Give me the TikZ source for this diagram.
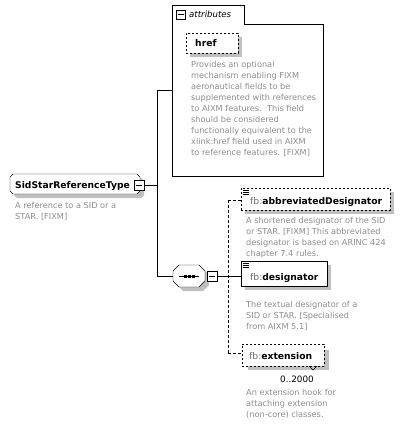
\documentclass[tikz,border=0pt]{standalone}
\usepackage{fontspec}
\setmainfont{DejaVu Sans}
\definecolor{desc}{RGB}{140,140,140}
\definecolor{shad}{RGB}{192,192,192}
\definecolor{pfx}{RGB}{110,110,110}
\begin{document}
\begin{tikzpicture}[x=1pt,y=-1pt,
  desctext/.style={anchor=north west,align=left,text=desc,font=\fontsize{8.2}{11}\selectfont,inner sep=0pt},
  nametext/.style={anchor=base west,inner sep=0pt,font=\fontsize{9.2}{10}\selectfont},
  elbox/.style={draw,thin,fill=white},
  shadowbox/.style={fill=shad},
  minusbox/.style={draw,thin,fill=white,minimum width=10pt,minimum height=10pt,inner sep=0pt},
  conn/.style={thin},
  dconn/.style={thin,dash pattern=on 3pt off 2pt}]
\useasboundingbox (0,0) rectangle (404,425);

% ---- attributes group
\draw[thin] (172,5) -- (244,5) -- (244,24) -- (323,24) -- (323,176) -- (172,176) -- cycle;
\node[minusbox,minimum width=9pt,minimum height=9pt] (am) at (180.5,14.5) {};
\draw (177.5,14.5) -- (183.5,14.5);
\node[nametext,font=\fontsize{8.6}{10}\selectfont\itshape] (attrlbl) at (189,18) {attributes};
\coordinate (attrw) at (172,90);

% href
\fill[shadowbox] (190,37) rectangle (242,57);
\node[elbox,dash pattern=on 2pt off 2pt,minimum width=52pt,minimum height=20pt,inner sep=0pt] (href) at (212,43) {};
\node[nametext,font=\fontsize{9.2}{10}\selectfont\bfseries] (hreft) at (195,47) {href};
\node[desctext] (hrefd) at (191,61) {Provides an optional\\mechanism enabling FIXM\\aeronautical fields to be\\supplemented with references\\to AIXM features.\ \ This field\\should be considered\\functionally equivalent to the\\xlink:href field used in AIXM\\to reference features. [FIXM]};

% ---- root type
\fill[shadowbox] (17,178) -- (141,178) -- (144,181) -- (144,195) -- (141,198) -- (17,198) -- (14,195) -- (14,181) -- cycle;
\draw[thin,fill=white] (13,174) -- (137,174) -- (140,177) -- (140,191) -- (137,194) -- (13,194) -- (10,191) -- (10,177) -- cycle;
\node[minimum width=130pt,minimum height=20pt,inner sep=0pt] (root) at (75,184) {};
\node[nametext,font=\fontsize{9.2}{10}\selectfont\bfseries] (roott) at (15,188.5) {SidStarReferenceType};
\node[minusbox] (m1) at (139,185) {};
\draw (136,185) -- (142,185);
\node[desctext] (rootd) at (15,202) {A reference to a SID or a\\STAR. [FIXM]};

% root connectors
\coordinate (j1) at (157,185);
\coordinate (jtop) at (157,90);
\coordinate (jbot) at (157,276);
\draw[conn] (m1.east) -- (j1);
\draw[conn] (jtop) -- (jbot);
\draw[conn] (jtop) -- (attrw);

% ---- sequence
\fill[shadowbox] (183,269) -- (203,269) -- (209,275) -- (209,285) -- (203,291) -- (183,291) -- (177,285) -- (177,275) -- cycle;
\draw[thin,fill=white] (179,265) -- (199,265) -- (205,271) -- (205,281) -- (199,287) -- (179,287) -- (173,281) -- (173,271) -- cycle;
\node[minimum width=32pt,minimum height=22pt,inner sep=0pt] (seq) at (189,276) {};
\draw[conn] (jbot) -- (seq.west);
\draw (179,276) -- (199,276);
\foreach \xx in {185,189,193} \fill (\xx-1.5,274.5) rectangle (\xx+1.5,277.5);
\node[minusbox] (m2) at (212,276) {};
\draw (209,276) -- (215,276);
\coordinate (s1) at (228,276);
\coordinate (stop) at (228,200);
\coordinate (sbot) at (228,353);
\draw[conn] (m2.east) -- (s1);
\draw[dconn] (stop) -- (sbot);

% ---- abbreviatedDesignator
\fill[shadowbox] (245,192) rectangle (394,214);
\node[elbox,dash pattern=on 2pt off 2pt,minimum width=149pt,minimum height=22pt,inner sep=0pt] (abbr) at (315.5,199) {};
\draw[dconn] (stop) -- (abbr.west |- stop);
\foreach \yy in {190.5,192.5,194.5} \draw[very thin] (243,\yy) -- (249,\yy);
\node[nametext] (abbrt) at (250,204) {\textcolor{pfx}{fb:}\textbf{abbreviatedDesignator}};
\node[desctext] (abbrd) at (246,217) {A shortened designator of the SID\\or STAR. [FIXM] This abbreviated\\designator is based on ARINC 424\\chapter 7.4 rules.};

% ---- designator
\fill[shadowbox] (245,265) rectangle (331,290);
\node[elbox,minimum width=86pt,minimum height=25pt,inner sep=0pt] (desig) at (284,273.5) {};
\draw[conn] (s1) -- (desig.west |- s1);
\foreach \yy in {263.5,265.5,267.5} \draw[very thin] (243,\yy) -- (249,\yy);
\node[nametext] (desigt) at (250,280) {\textcolor{pfx}{fb:}\textbf{designator}};
\node[desctext] (desigd) at (246,301) {The textual designator of a\\SID or STAR. [Specialised\\from AIXM 5.1]};

% ---- extension
\fill[shadowbox] (248,350) rectangle (329,370);
\node[elbox,dash pattern=on 2pt off 2pt,minimum width=82pt,minimum height=22pt,inner sep=0pt] (ext) at (283,355) {};
\draw[dconn] (sbot) -- (ext.west |- sbot);
\draw[thin] (309,366) -- (313,370) -- (317,366);
\node[nametext] (extt) at (249,359) {\textcolor{pfx}{fb:}\textbf{extension}};
\node[nametext,font=\fontsize{8.8}{10}\selectfont] (extc) at (280,382) {0..2000};
\node[desctext] (extd) at (246,389) {An extension hook for\\attaching extension\\(non-core) classes.};
\end{tikzpicture}
\end{document}
